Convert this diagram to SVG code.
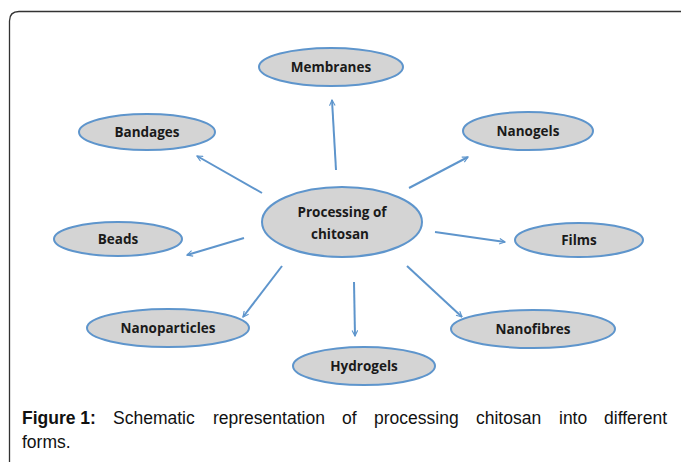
<svg xmlns="http://www.w3.org/2000/svg" width="681" height="462" viewBox="0 0 681 462">
<defs>
<style>
.node ellipse{fill:#d4d4d4;stroke:#5e95cc;stroke-width:2}
.node text{font-family:"Open Sans","Liberation Sans",sans-serif;font-weight:bold;font-size:13.5px;fill:#1a1a1a;text-anchor:middle}
.conn line{stroke:#5e95cc;stroke-width:2;marker-end:url(#ah)}
.cap{font-family:"Liberation Sans",Arial,sans-serif;font-size:17.5px;fill:#111}
</style>
<marker id="ah" viewBox="0 0 10 10" refX="9" refY="5" markerWidth="7" markerHeight="7" orient="auto" markerUnits="userSpaceOnUse">
<path d="M1,1 L9,5 L1,9" fill="none" stroke="#5e95cc" stroke-width="1.6"/>
</marker>
</defs>
<rect width="681" height="462" fill="#fff"/>
<path d="M9.5,462 V21 Q9.5,11.5 19,11.5 H681" fill="none" stroke="#333" stroke-width="1.3"/>
<g class="conn">
<line x1="336" y1="170" x2="332" y2="100"/>
<line x1="262" y1="193" x2="197" y2="156"/>
<line x1="409" y1="188" x2="468" y2="157"/>
<line x1="435" y1="232" x2="505" y2="242"/>
<line x1="244" y1="238" x2="187" y2="255"/>
<line x1="282" y1="266" x2="243" y2="317"/>
<line x1="354" y1="282" x2="355" y2="336"/>
<line x1="407" y1="266" x2="462" y2="317"/>
</g>
<g id="center" class="node"><ellipse cx="342" cy="222" rx="80" ry="35"/><text x="342" y="217">Processing of</text><text x="340" y="239">chitosan</text></g>
<g id="membranes" class="node"><ellipse cx="331" cy="67" rx="72" ry="19"/><text x="331" y="72">Membranes</text></g>
<g id="bandages" class="node"><ellipse cx="147" cy="132" rx="68" ry="18"/><text x="147" y="137">Bandages</text></g>
<g id="nanogels" class="node"><ellipse cx="528" cy="131" rx="65" ry="19"/><text x="528" y="136">Nanogels</text></g>
<g id="films" class="node"><ellipse cx="579" cy="240" rx="64" ry="17"/><text x="579" y="245">Films</text></g>
<g id="beads" class="node"><ellipse cx="118" cy="239" rx="64" ry="17"/><text x="118" y="244">Beads</text></g>
<g id="nanoparticles" class="node"><ellipse cx="168" cy="328" rx="81" ry="19"/><text x="168" y="333">Nanoparticles</text></g>
<g id="hydrogels" class="node"><ellipse cx="364" cy="366" rx="71" ry="19"/><text x="364" y="371">Hydrogels</text></g>
<g id="nanofibres" class="node"><ellipse cx="533" cy="329" rx="82" ry="19"/><text x="533" y="334">Nanofibres</text></g>
<g id="caption" class="cap">
<text x="22" y="424" font-weight="bold">Figure 1:</text>
<text x="113" y="424">Schematic</text>
<text x="213" y="424">representation</text>
<text x="342" y="424">of</text>
<text x="374" y="424">processing</text>
<text x="476" y="424">chitosan</text>
<text x="559" y="424">into</text>
<text x="667" y="424" text-anchor="end">different</text>
<text x="22" y="448">forms.</text>
</g>
</svg>
